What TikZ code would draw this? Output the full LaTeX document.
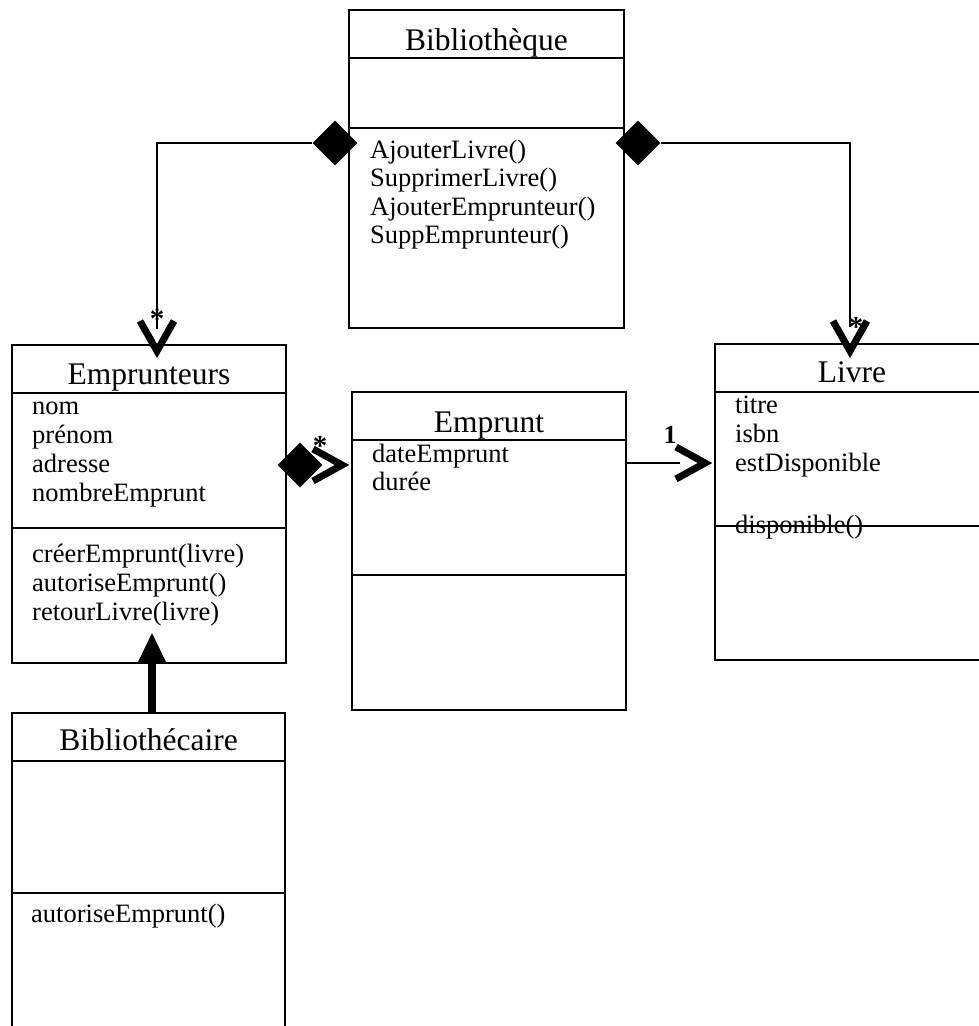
\documentclass[tikz,border=0pt]{standalone}
\usepackage{fontspec}
\setmainfont{Liberation Serif}
\usetikzlibrary{shapes.geometric}
\begin{document}
\begin{tikzpicture}[x=1pt,y=-1pt,
  classbox/.style={draw, line width=1.8pt, inner sep=0pt, outer sep=0pt, anchor=north west, minimum width=274pt},
  divider/.style={line width=2.6pt},
  classtitle/.style={font=\fontsize{31.5}{36}\selectfont, anchor=base, inner sep=0pt},
  member/.style={font=\fontsize{26.5}{29}\selectfont, anchor=base west, inner sep=0pt},
  conn/.style={line width=2.4pt},
  vhead/.style={line width=7pt, miter limit=10},
  genline/.style={line width=7.5pt},
  comp/.style={diamond, fill=black, draw=none, minimum width=45pt, minimum height=45pt, inner sep=0pt},
  mult/.style={font=\bfseries\fontsize{29}{32}\selectfont, inner sep=0pt, anchor=base},
  multnum/.style={font=\bfseries\fontsize{26}{30}\selectfont, inner sep=0pt, anchor=base}]
\useasboundingbox (0,0) rectangle (979,1026);
\clip (0,0) rectangle (979,1026);
\fill[white] (0,0) rectangle (979,1026);

% class boxes
\node[classbox, minimum width=275pt, minimum height=318pt] (bib) at (349,10) {};
\node[classbox, minimum height=318pt] (emp) at (12,345) {};
\node[classbox, minimum height=318pt] (empr) at (352,392) {};
\node[classbox, minimum height=316pt] (livre) at (715,344) {};
\node[classbox, minimum width=273pt, minimum height=340pt] (bibc) at (12,713) {};

% dividers
\draw[divider] (bib.west |- 0,58) -- (bib.east |- 0,58);
\draw[divider] (bib.west |- 0,128) -- (bib.east |- 0,128);
\draw[divider] (emp.west |- 0,393) -- (emp.east |- 0,393);
\draw[divider] (emp.west |- 0,528) -- (emp.east |- 0,528);
\draw[divider] (empr.west |- 0,440) -- (empr.east |- 0,440);
\draw[divider] (empr.west |- 0,575) -- (empr.east |- 0,575);
\draw[divider] (livre.west |- 0,392) -- (livre.east |- 0,392);
\draw[divider] (livre.west |- 0,526) -- (livre.east |- 0,526);
\draw[divider] (bibc.west |- 0,761) -- (bibc.east |- 0,761);
\draw[divider] (bibc.west |- 0,893) -- (bibc.east |- 0,893);

% titles
\node[classtitle] (bibT) at (486.5,50) {Bibliothèque};
\node[classtitle] (empT) at (149,384) {Emprunteurs};
\node[classtitle] (emprT) at (489,432) {Emprunt};
\node[classtitle] (livreT) at (852,382) {Livre};
\node[classtitle] (bibcT) at (148.5,750) {Bibliothécaire};

% members
\node[member] (b1) at (370,158) {AjouterLivre()};
\node[member] (b2) at (370,186.5) {SupprimerLivre()};
\node[member] (b3) at (370,215) {AjouterEmprunteur()};
\node[member] (b4) at (370,243.5) {SuppEmprunteur()};

\node[member] (e1t) at (32,414) {nom};
\node[member] (e2t) at (32,443) {prénom};
\node[member] (e3t) at (32,472) {adresse};
\node[member] (e4t) at (32,501) {nombreEmprunt};
\node[member] (e5t) at (32,562) {créerEmprunt(livre)};
\node[member] (e6t) at (32,591) {autoriseEmprunt()};
\node[member] (e7t) at (32,620) {retourLivre(livre)};

\node[member] (p1t) at (372,462) {dateEmprunt};
\node[member] (p2t) at (372,490) {durée};

\node[member] (l1t) at (735,413) {titre};
\node[member] (l2t) at (735,442) {isbn};
\node[member] (l3t) at (735,471) {estDisponible};
\node[member] (l4t) at (735,533) {disponible()};

\node[member] (c1t) at (31,922) {autoriseEmprunt()};

% compositions
\node[comp] (d1) at (335,143) {};
\node[comp] (d2) at (638,143) {};
\node[comp] (d3) at (300,465) {};

\coordinate (k1) at (157,329);
\coordinate (v1) at (157,351);
\draw[conn] (d1.west) -| (k1);
\draw[vhead] ([shift={(-17,-30)}]v1) -- (v1) -- ([shift={(17,-30)}]v1);

\coordinate (k2) at (850,327);
\coordinate (v2) at (850,351);
\draw[conn] (d2.east) -| (k2);
\draw[vhead] ([shift={(-17,-30)}]v2) -- (v2) -- ([shift={(17,-30)}]v2);

% Emprunteurs -- Emprunt
\coordinate (v3) at (342,465);
\draw[vhead] ([shift={(-29,-16)}]v3) -- (v3) -- ([shift={(-29,16)}]v3);

% Emprunt -> Livre
\coordinate (k4) at (680,463);
\coordinate (v4) at (705,463);
\draw[conn] (empr.east |- k4) -- (k4);
\draw[vhead] ([shift={(-29,-16)}]v4) -- (v4) -- ([shift={(-29,16)}]v4);

% generalization Bibliothecaire -> Emprunteurs
\coordinate (gt) at (152,633);
\coordinate (gb) at (152,661);
\draw[genline] (bibc.north -| gt) -- (gb);
\fill (gt) -- ([shift={(-14,29)}]gt) -- ([shift={(14,29)}]gt) -- cycle;

% multiplicities
\node[mult] (m1) at (157,328) {*};
\node[mult] (m2) at (856,336) {*};
\node[mult] (m3) at (320,455) {*};
\node[multnum] (m4) at (670,443) {1};
\end{tikzpicture}
\end{document}
